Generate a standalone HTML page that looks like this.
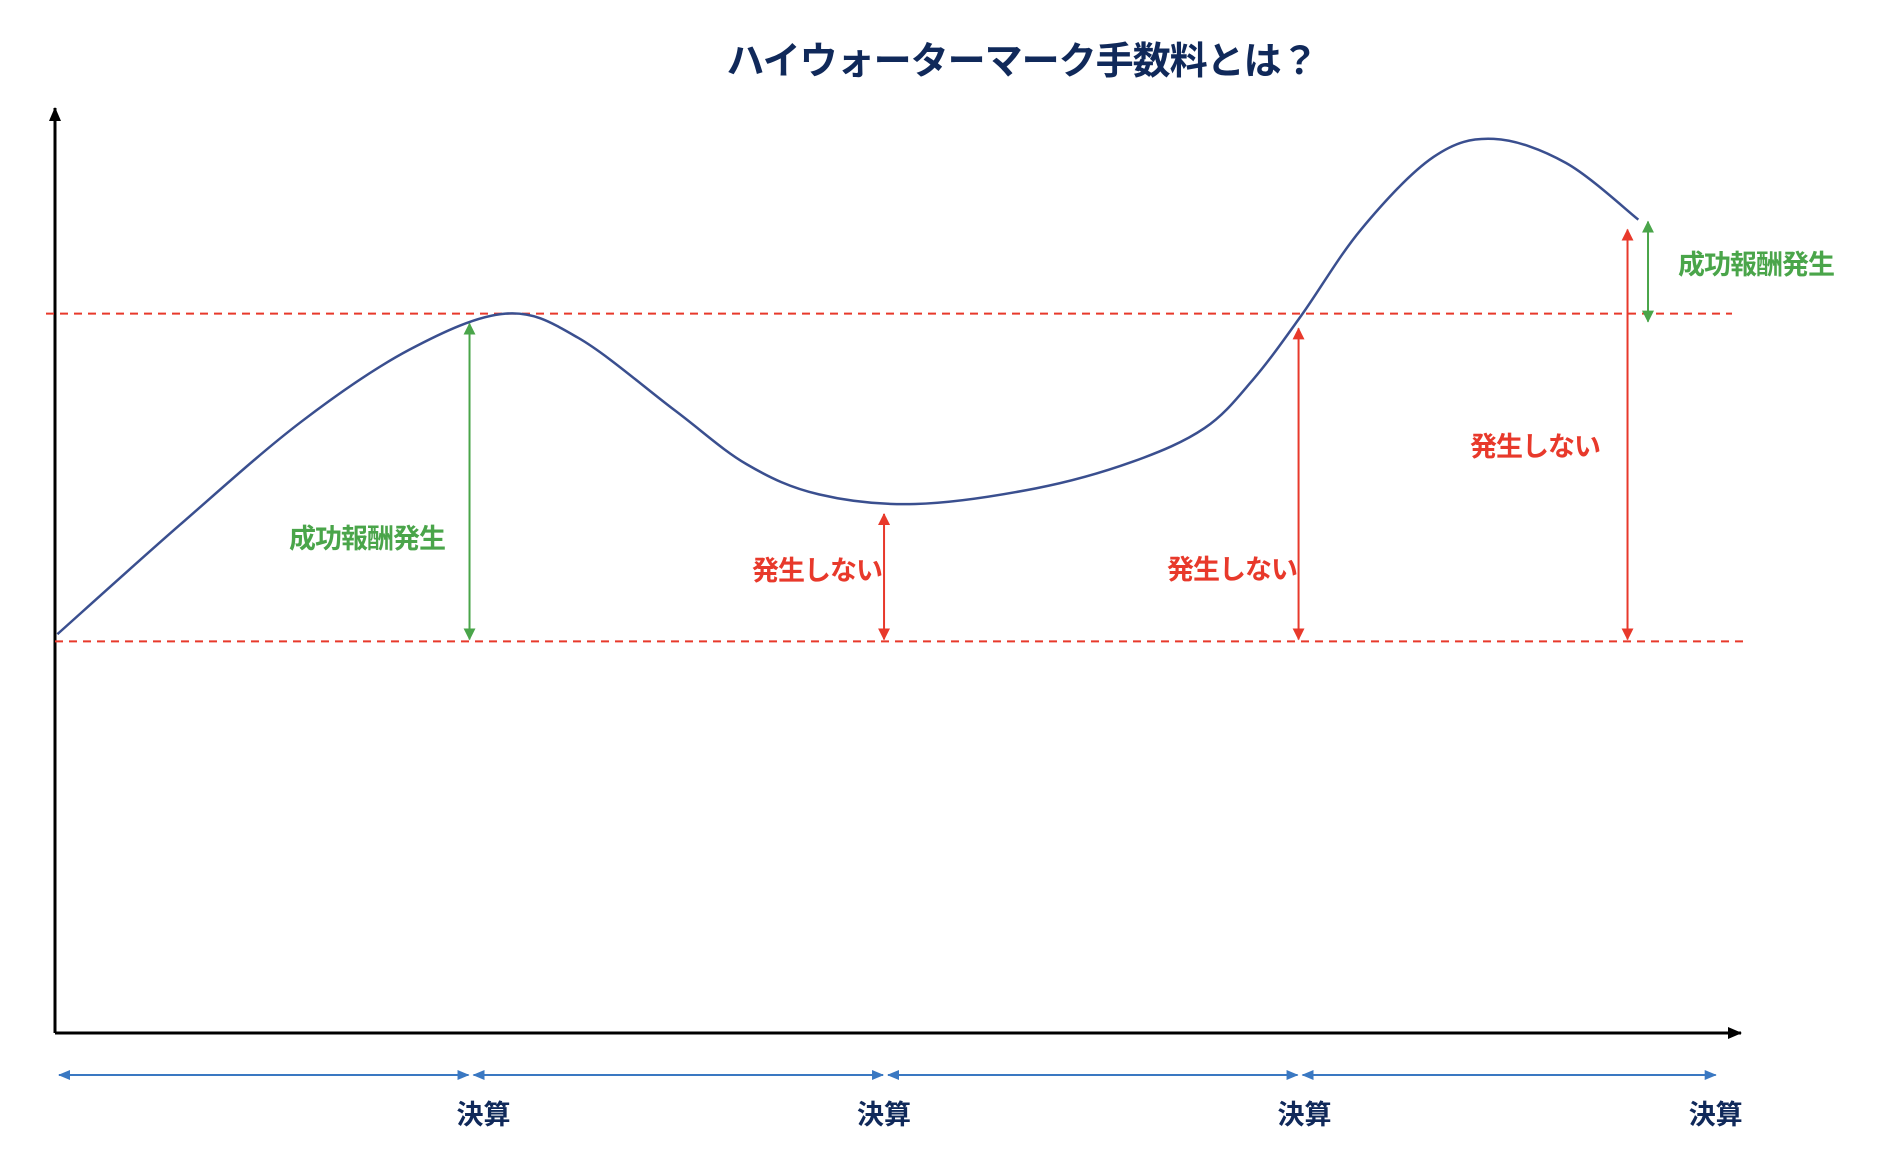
<!DOCTYPE html>
<html><head><meta charset="utf-8"><style>
html,body{margin:0;padding:0;background:#fff;}
svg{display:block;}
text{font-family:"Liberation Sans","Noto Sans CJK JP",sans-serif;font-weight:bold;}
</style></head><body>
<svg id="chart" width="1880" height="1162" viewBox="0 0 1880 1162">
<defs>
<marker id="ar" markerWidth="12" markerHeight="12" refX="11" refY="6" orient="auto-start-reverse" markerUnits="userSpaceOnUse"><path d="M0,0 L12,6 L0,12 z" fill="#e8392b"/></marker>
<marker id="ag" markerWidth="12" markerHeight="12" refX="11" refY="6" orient="auto-start-reverse" markerUnits="userSpaceOnUse"><path d="M0,0 L12,6 L0,12 z" fill="#4aa54a"/></marker>
<marker id="ab" markerWidth="12" markerHeight="10" refX="11" refY="5" orient="auto-start-reverse" markerUnits="userSpaceOnUse"><path d="M0,0 L12,5 L0,10 z" fill="#3a78c2"/></marker>
<marker id="ak" markerWidth="14" markerHeight="12" refX="13" refY="6" orient="auto-start-reverse" markerUnits="userSpaceOnUse"><path d="M0,0 L14,6 L0,12 z" fill="#000"/></marker>
</defs>
<text x="1022" y="74" text-anchor="middle" font-size="38" letter-spacing="-1" fill="#10295a">ハイウォーターマーク手数料とは？</text>
<line x1="55" y1="1033" x2="55" y2="108" stroke="#000" stroke-width="3" marker-end="url(#ak)"/>
<line x1="55" y1="1033" x2="1741" y2="1033" stroke="#000" stroke-width="3" marker-end="url(#ak)"/>
<g id="marks"></g>
</svg>
<script>
const xVals = [2,104,204,294,374,434,514,574,634,714,814,894,954,994,1034,1084,1144,1194,1254,1314];
const yVals = [331,422,507,567,597,577,517,472,447,439,452,474,502,542,595,667,727,742,722,675];
const hwmLevels = [597, 325];
const periodEnds = [0, 344, 688, 1032, 1379];
const periodLabels = ["決算","決算","決算","決算"];
const arrowX = [344, 688, 1032, 1305];
const arrowTop = [597, 439, 593, 675];
const arrowLabels = ["成功報酬発生","発生しない","発生しない","発生しない"];
const feeArrowX = [1322];
const feeArrowLabels = ["成功報酬発生"];

const px = x => 55 + x * 1.205;
const py = v => 1033 - v * 1.205;
const NS = "http://www.w3.org/2000/svg";
const g = document.getElementById('marks');
function mk(tag, attrs){ const e=document.createElementNS(NS,tag); for(const k in attrs) e.setAttribute(k,attrs[k]); g.appendChild(e); return e; }

hwmLevels.forEach((v,i)=>{
  const l = mk('line',{x1: i===0?46:55, x2: i===0?1732:1744, y1: py(v), y2: py(v), stroke:'#e8392b','stroke-width':2,'stroke-dasharray':'8,6'});
  
  
});

const P = xVals.map((x,i)=>[px(x), py(yVals[i])]);
let d = `M${P[0][0]},${P[0][1]}`;
for(let i=0;i<P.length-1;i++){
  const p0=P[Math.max(i-1,0)], p1=P[i], p2=P[i+1], p3=P[Math.min(i+2,P.length-1)];
  d += ` C${p1[0]+(p2[0]-p0[0])/6},${p1[1]+(p2[1]-p0[1])/6} ${p2[0]-(p3[0]-p1[0])/6},${p2[1]-(p3[1]-p1[1])/6} ${p2[0]},${p2[1]}`;
}
const curve = mk('path',{d, fill:'none', stroke:'#3a4f8f','stroke-width':2.5});



const base = py(hwmLevels[1]);
const labelPos = [[367,548,'#4aa54a'],[817,580,'#e8392b'],[1232,579,'#e8392b'],[1535,456,'#e8392b']];
arrowX.forEach((x,i)=>{
  const col = i===0 ? 'g' : 'r';
  const a = mk('line',{x1:px(x),x2:px(x),y1:base-2,y2:py(arrowTop[i])+10,stroke: i===0?'#4aa54a':'#e8392b','stroke-width':2,'marker-start':`url(#a${col})`,'marker-end':`url(#a${col})`});
  
  
  const t = mk('text',{x:labelPos[i][0], y:labelPos[i][1], 'text-anchor':'middle','font-size':27,'letter-spacing':-1, fill:labelPos[i][2]});
  t.textContent = arrowLabels[i];
  
  
});
feeArrowX.forEach((x,i)=>{
  const a = mk('line',{x1:px(x),x2:px(x),y1:py(yVals[yVals.length-1])+2,y2:py(hwmLevels[0])+8,stroke:'#4aa54a','stroke-width':2,'marker-start':'url(#ag)','marker-end':'url(#ag)'});
  
  
  const t = mk('text',{x:1756, y:274, 'text-anchor':'middle','font-size':27,'letter-spacing':-1, fill:'#4aa54a'});
  t.textContent = feeArrowLabels[i];
  
  
});

const labelOffsets = [14, 0, 6, -1];
for(let i=0;i<periodEnds.length-1;i++){
  const a = mk('line',{x1:px(periodEnds[i])+4,x2:px(periodEnds[i+1])-1,y1:1075,y2:1075,stroke:'#3a78c2','stroke-width':2,'marker-start':'url(#ab)','marker-end':'url(#ab)'});
  
  
  const t = mk('text',{x:px(periodEnds[i+1])+labelOffsets[i], y:1124,'text-anchor':'middle','font-size':27, fill:'#10295a'});
  t.textContent = periodLabels[i];
  
  
}
</script>
</body></html>
